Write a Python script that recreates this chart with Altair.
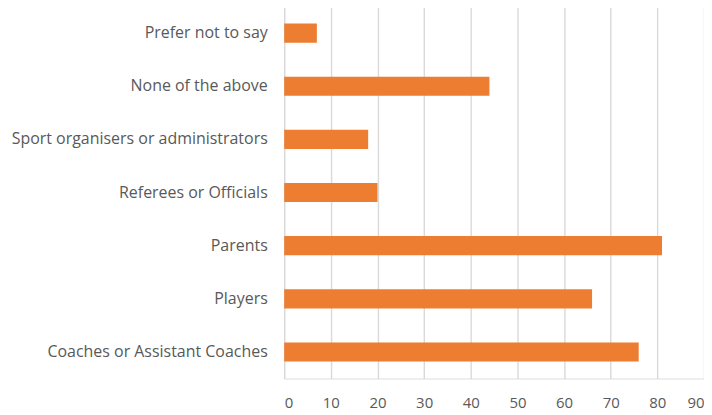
import altair as alt
import pandas as pd

categories = [
    "Prefer not to say",
    "None of the above",
    "Sport organisers or administrators",
    "Referees or Officials",
    "Parents",
    "Players",
    "Coaches or Assistant Coaches",
]
values = [7, 44, 18, 20, 81, 66, 76]
x_ticks = [0, 10, 20, 30, 40, 50, 60, 70, 80, 90]

df = pd.DataFrame({"category": categories, "value": values})

FONT = "Open Sans"
TEXT = "#595959"

chart = (
    alt.Chart(df)
    .mark_bar(color="#ED7D31")
    .encode(
        x=alt.X(
            "value:Q",
            scale=alt.Scale(domain=[0, 90], nice=False, zero=True),
            axis=alt.Axis(
                values=x_ticks,
                title=None,
                grid=True,
                gridColor="#d9d9d9",
                gridWidth=1.4,
                ticks=False,
                domain=False,
                labelFlush=True,
                labelOverlap=False,
                labelPadding=17,
                labelFont=FONT,
                labelFontSize=15,
                labelColor=TEXT,
            ),
        ),
        y=alt.Y(
            "category:N",
            sort=categories,
            scale=alt.Scale(paddingInner=0.64, paddingOuter=0.32),
            axis=alt.Axis(
                title=None,
                grid=False,
                ticks=False,
                domain=False,
                labelPadding=17,
                labelFont=FONT,
                labelFontSize=16,
                labelColor=TEXT,
                labelLimit=400,
            ),
        ),
    )
    .properties(
        width=421,
        height=373,
        autosize=alt.AutoSizeParams(type="none"),
        padding={"left": 277, "top": -2, "right": 0, "bottom": 34},
    )
    .configure_view(stroke=None)
    .configure(background="white")
)

chart.save("out.html", embed_options={"renderer": "svg", "actions": False})
